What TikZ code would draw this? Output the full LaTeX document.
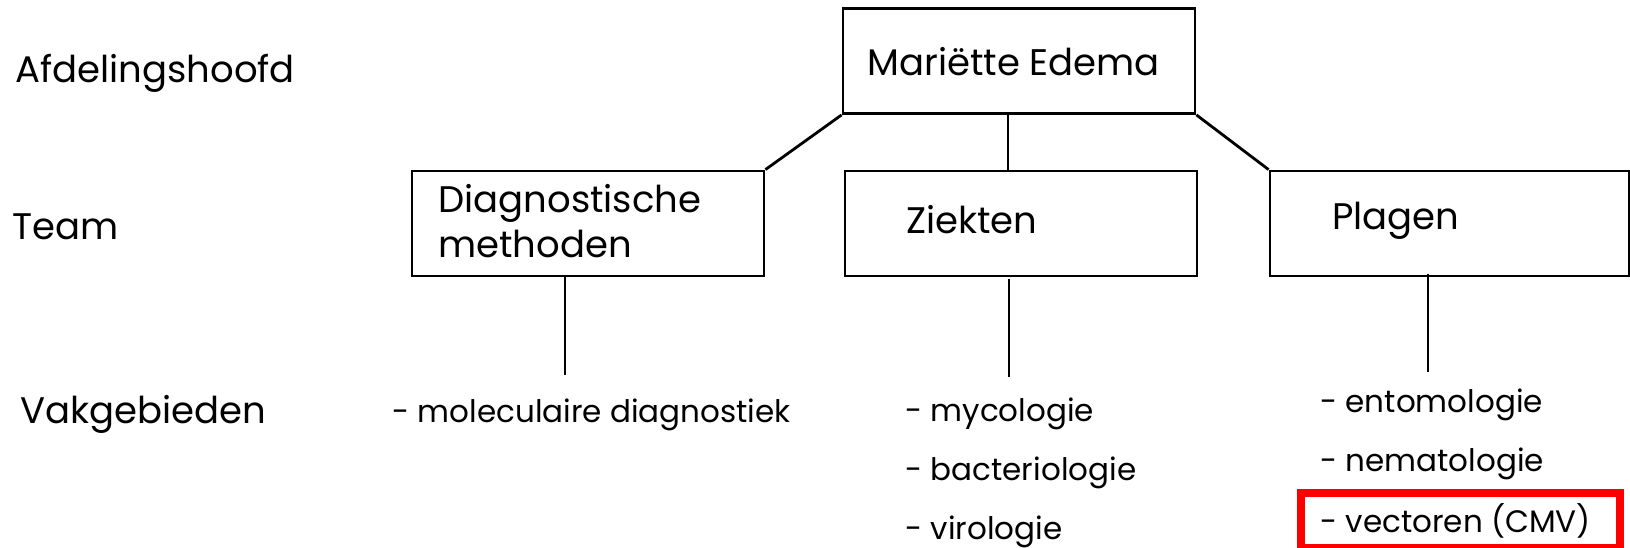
\documentclass[tikz,border=0pt]{standalone}
\usepackage{fontspec}
\setmainfont{Poppins}
\definecolor{markred}{RGB}{255,0,0}
\begin{document}
\begin{tikzpicture}[x=0.5pt,y=-0.5pt]
  \tikzstyle{every node}=[font=\fontsize{18.5}{22.5}\selectfont]
  \tikzstyle{box}=[draw,line width=1.4pt,minimum width=176pt,minimum height=52.5pt,inner sep=0pt]
  \tikzstyle{txt}=[anchor=base west,inner sep=0pt]
  \tikzstyle{item}=[txt,font=\fontsize{15.5}{19}\selectfont]
  \tikzstyle{line}=[line width=1.4pt]
  \useasboundingbox (0,0) rectangle (1630,547);
  % levels
  \node[txt] (hoofd) at (15,82) {Afdelingshoofd};
  \node[txt] (team) at (12,239) {Team};
  \node[txt] (vak) at (20,423) {Vakgebieden};
  % boxes
  \node[box] (boss) at (1019,61) {};
  \node[box] (diag) at (588,223.5) {};
  \node[box] (ziek) at (1021,223.5) {};
  \node[box,minimum width=179.5pt] (plag) at (1449.5,223.5) {};
  \node[txt] (bossname) at (867,75) {Mariëtte Edema};
  \node[txt,align=left] (diagname) at (438,257) {Diagnostische\\methoden};
  \node[txt] (ziekname) at (906,233) {Ziekten};
  \node[txt] (plagname) at (1332,229) {Plagen};
  % fields
  \node[item] (mol) at (392,422) {- moleculaire diagnostiek};
  \node[item] (myc) at (905,421) {- mycologie};
  \node[item] (bac) at (905,480) {- bacteriologie};
  \node[item] (vir) at (905,539) {- virologie};
  \node[item] (ento) at (1320,412) {- entomologie};
  \node[item] (nema) at (1320,471) {- nematologie};
  \node[item] (vect) at (1320,532) {- vectoren (CMV)};
  % connectors
  \draw[line] (boss.south west) -- (diag.north east);
  \draw[line] (boss.south -| 1008,0) -- (ziek.north -| 1008,0);
  \draw[line] (boss.south east) -- (plag.north west);
  \coordinate (molend) at (565,375);
  \coordinate (mycend) at (1009,377);
  \coordinate (entoend) at (1428,372);
  \draw[line] (diag.south -| molend) -- (molend);
  \draw[line] ([yshift=-1pt]ziek.south -| mycend) -- (mycend);
  \draw[line] ([yshift=1.5pt]plag.south -| entoend) -- (entoend);
  % highlight
  \draw[markred,line width=4pt] (1301,493) rectangle (1620,548);
\end{tikzpicture}
\end{document}
